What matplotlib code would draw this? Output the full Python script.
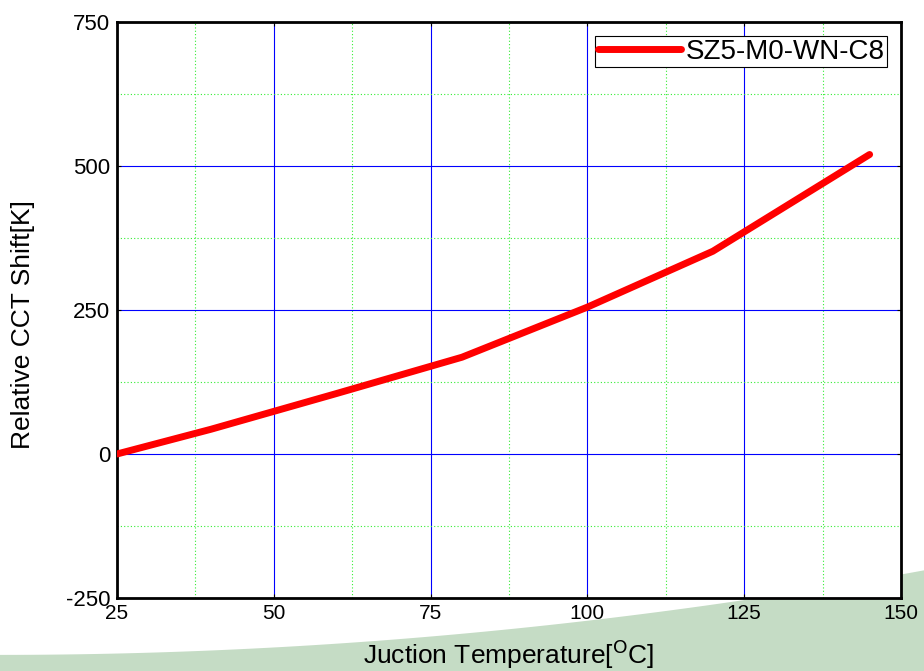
import matplotlib
matplotlib.use('Agg')
import matplotlib.pyplot as plt
import numpy as np
from matplotlib.patches import Polygon

plt.rcParams['font.family'] = ['Liberation Sans', 'DejaVu Sans']
plt.rcParams['axes.unicode_minus'] = False

# data
temps = [25, 40, 60, 80, 100, 120, 145]
cct_shift = [0, 43, 105, 168, 255, 352, 520]
series_name = 'SZ5-M0-WN-C8'
xticks = [25, 50, 75, 100, 125, 150]
yticks = [-250, 0, 250, 500, 750]

fig = plt.figure(figsize=(9.24, 6.71), dpi=100)

# green swoosh in the background
sx = np.linspace(0, 1, 60)
sy = 0.024 + 0.126 * sx ** 2
pts = list(zip(sx, sy)) + [(1, 0), (0, 0)]
fig.patches.append(Polygon(pts, closed=True, transform=fig.transFigure,
                           facecolor='#c5dcc5', edgecolor='none', zorder=0))

ax = fig.add_axes([0.1266, 0.1088, 0.8485, 0.8584])
ax.set_facecolor('white')
ax.set_zorder(1)

ax.plot(temps, cct_shift, color='red', lw=5, solid_capstyle='round',
        label=series_name, zorder=3)

ax.set_xlim(25, 150)
ax.set_ylim(-250, 750)
ax.set_xticks(xticks)
ax.set_yticks(yticks)
ax.set_xticks([37.5, 62.5, 87.5, 112.5, 137.5], minor=True)
ax.set_yticks([-125, 125, 375, 625], minor=True)

ax.grid(which='major', color='blue', lw=0.8, ls='-')
ax.grid(which='minor', color='#33ee33', lw=0.8, ls=(0, (1, 2)))
ax.tick_params(which='both', direction='in', length=3, top=True, right=True)
ax.tick_params(axis='x', labelsize=15, pad=4)
ax.tick_params(axis='y', labelsize=16, pad=5)
ax.tick_params(which='minor', length=0)
for s in ax.spines.values():
    s.set_linewidth(2)

ax.set_xlabel('Juction Temperature[$^{\\mathrm{O}}$C]', fontsize=19, labelpad=11)
ax.set_ylabel('Relative CCT Shift[K]', fontsize=19)
ax.yaxis.set_label_coords(-0.104, 0.475)

leg = ax.legend(loc='upper right', fontsize=20, handlelength=3.0,
                fancybox=False, framealpha=1, borderpad=0.1,
                handletextpad=0.15, borderaxespad=0.5)
leg.get_frame().set_edgecolor('black')
leg.get_frame().set_linewidth(0.8)

plt.savefig('out.png', dpi=100)
